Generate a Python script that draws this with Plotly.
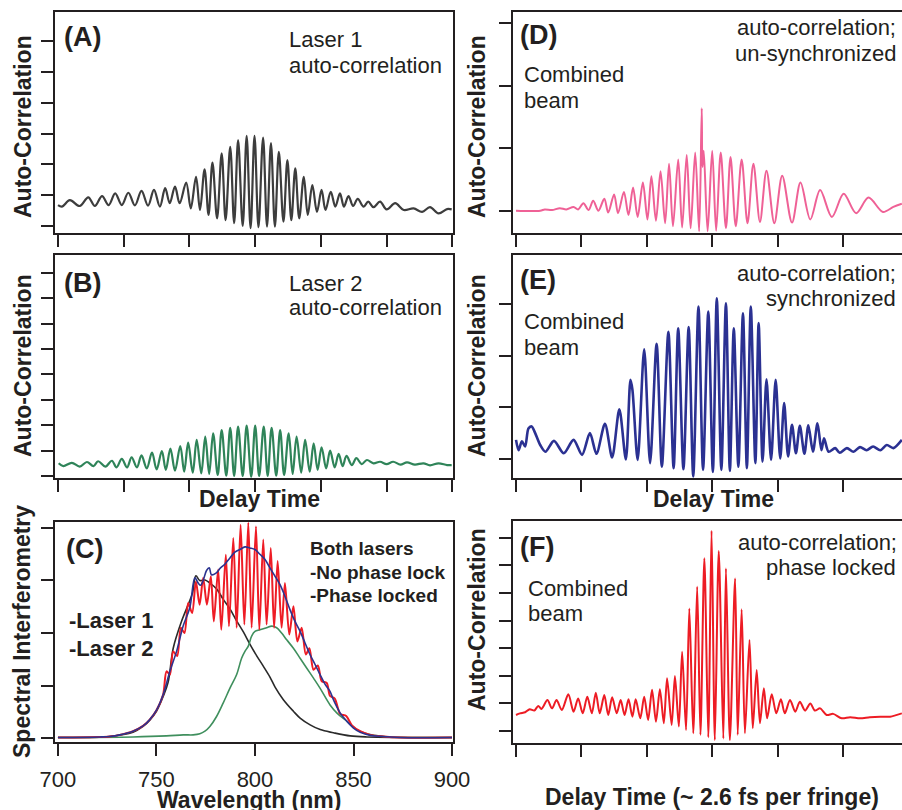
import plotly.graph_objects as go

# ---------------- data ----------------
# (A) Laser 1 auto-correlation: delay (tick units) / signal (tick units)
A_delay = [0.00,0.06,0.18,0.33,0.46,0.56,0.67,0.77,0.87,0.97,1.07,1.17,1.27,1.37,1.46,1.55,1.63,1.70,1.78,1.85,
           1.95,2.02,2.10,2.16,2.23,2.29,2.35,2.42,2.49,2.55,2.62,2.68,2.74,2.81,2.87,2.93,2.99,3.05,3.12,3.18,
           3.24,3.30,3.36,3.43,3.49,3.55,3.61,3.67,3.74,3.80,3.87,3.94,4.01,4.07,4.15,4.22,4.29,4.35,4.42,4.49,
           4.56,4.65,4.72,4.80,4.90,5.00,5.13,5.26,5.41,5.54,5.66,5.79,5.92,5.99]
A_signal = [0.68,0.63,0.84,0.65,0.93,0.65,0.97,0.68,1.06,0.68,1.08,0.67,1.14,0.66,1.17,0.63,1.23,0.74,1.28,0.74,
            1.41,0.57,1.60,0.52,1.84,0.36,2.06,0.25,2.36,0.19,2.57,0.09,2.79,0.00,2.93,-0.07,2.93,-0.04,2.87,-0.02,
            2.69,-0.02,2.41,0.14,2.14,0.19,1.87,0.25,1.60,0.36,1.33,0.46,1.17,0.52,1.11,0.63,1.06,0.63,0.97,0.65,
            0.88,0.63,0.79,0.61,0.79,0.54,0.74,0.52,0.57,0.46,0.61,0.41,0.55,0.54]

# (B) Laser 2 auto-correlation
B_delay = [0.01,0.08,0.21,0.33,0.44,0.54,0.61,0.72,0.82,0.89,0.97,1.05,1.12,1.20,1.27,1.35,1.43,1.50,1.58,1.64,
           1.71,1.78,1.86,1.92,1.98,2.05,2.11,2.18,2.24,2.30,2.36,2.43,2.49,2.56,2.62,2.68,2.74,2.81,2.87,2.94,
           3.00,3.06,3.13,3.19,3.25,3.32,3.38,3.44,3.51,3.57,3.63,3.70,3.76,3.83,3.89,3.95,4.01,4.08,4.14,4.21,
           4.27,4.33,4.39,4.47,4.54,4.62,4.70,4.80,4.90,5.00,5.10,5.21,5.31,5.43,5.56,5.66,5.79,5.92,5.99]
B_signal = [0.50,0.39,0.52,0.37,0.55,0.39,0.58,0.37,0.60,0.34,0.67,0.34,0.73,0.34,0.81,0.30,0.92,0.26,0.98,0.24,
            1.08,0.21,1.18,0.17,1.31,0.13,1.42,0.10,1.55,0.08,1.68,0.04,1.81,0.01,1.90,0.00,1.94,0.00,1.98,-0.03,
            1.98,0.00,1.94,0.00,1.90,0.01,1.81,0.04,1.68,0.08,1.55,0.13,1.42,0.17,1.29,0.24,1.13,0.30,1.00,0.34,
            0.87,0.39,0.79,0.43,0.70,0.47,0.63,0.50,0.56,0.47,0.56,0.45,0.54,0.45,0.50,0.42,0.50,0.43,0.43]

# (C) spectra: wavelength (nm) / intensity (tick units)
C_laser1_wl = [700.0,726.3,738.1,743.2,746.6,750.0,753.4,755.9,758.5,762.7,766.1,768.3,770.0,772.0,774.6,776.8,
               780.5,783.9,787.3,790.7,794.1,797.4,800.8,804.2,807.6,810.2,814.4,819.5,822.9,828.0,833.1,839.8,
               848.3,856.8,900.0]
C_laser1 = [0.01,0.03,0.11,0.22,0.34,0.51,0.79,1.06,1.71,2.22,2.54,2.76,3.09,3.00,3.01,2.96,
            2.84,2.64,2.46,2.23,2.02,1.79,1.57,1.37,1.16,0.97,0.73,0.51,0.38,0.25,0.16,0.10,
            0.04,0.02,0.01]
C_laser2_wl = [700.0,738.1,755.1,763.6,768.6,772.0,774.6,777.1,780.5,783.9,787.3,790.7,793.2,794.9,796.6,798.3,
               800.0,802.5,805.9,808.5,811.0,813.5,816.1,819.5,822.9,826.3,829.7,833.0,838.1,841.5,846.6,851.7,
               856.8,865.3,900.0]
C_laser2 = [0.01,0.02,0.04,0.06,0.06,0.08,0.13,0.22,0.41,0.67,0.95,1.21,1.52,1.65,1.75,1.94,
            2.03,2.06,2.10,2.13,2.10,2.00,1.87,1.71,1.52,1.33,1.14,0.95,0.63,0.48,0.32,0.16,
            0.08,0.03,0.01]
C_nolock_wl = [700.0,721.2,726.3,731.4,738.1,743.2,746.6,750.0,753.4,756.8,760.2,763.5,766.9,769.5,771.2,772.4,
               773.7,775.4,776.8,777.9,780.2,782.5,784.7,787.3,789.8,792.4,794.9,797.4,800.0,802.5,805.1,807.6,
               810.2,812.7,815.2,817.8,820.3,822.9,825.4,827.9,830.5,833.0,835.6,838.1,839.8,843.2,846.6,850.0,
               853.4,858.5,865.3,873.7,900.0]
C_nolock = [0.01,0.02,0.03,0.06,0.13,0.23,0.35,0.53,0.83,1.27,1.65,2.13,2.48,3.05,2.95,2.91,
            3.00,3.19,3.24,3.11,3.14,3.24,3.31,3.43,3.54,3.59,3.64,3.62,3.59,3.50,3.40,3.24,
            3.08,2.92,2.70,2.44,2.22,2.03,1.81,1.59,1.40,1.21,1.02,0.89,0.73,0.48,0.32,0.19,
            0.11,0.05,0.03,0.01,0.01]
C_locked_wl = [700.0,721.2,726.3,731.4,738.1,743.2,746.6,750.0,753.4,755.1,756.8,758.5,760.5,762.4,764.2,766.1,
               768.1,770.0,771.9,773.7,775.6,777.6,779.1,781.3,782.9,785.2,786.8,789.0,790.7,792.7,794.6,796.6,
               798.3,800.5,802.2,804.2,805.9,808.0,809.7,811.5,813.5,815.2,817.4,819.5,821.5,823.7,825.8,827.6,
               829.7,831.9,833.9,836.4,838.1,840.5,843.2,846.3,849.2,853.4,858.5,865.3,873.7,900.0]
C_locked = [0.01,0.02,0.03,0.06,0.13,0.23,0.35,0.53,0.83,1.27,1.21,1.65,1.56,2.10,2.00,2.57,
            2.38,2.98,2.54,3.05,2.54,3.08,2.22,3.21,2.06,3.49,2.13,3.81,2.10,4.06,2.16,4.10,
            2.10,4.03,2.06,3.78,2.16,3.62,2.10,3.37,2.10,2.95,1.97,2.51,1.84,2.10,1.59,1.71,
            1.30,1.38,1.08,1.05,0.80,0.75,0.46,0.42,0.24,0.13,0.06,0.03,0.01,0.01]
C_wl_ticks = [700, 750, 800, 850, 900]

# (D) combined beam, un-synchronized
D_delay = [0.00,0.37,0.44,0.55,0.67,0.77,0.88,0.95,1.03,1.11,1.18,1.26,1.35,1.41,1.50,1.56,1.65,1.72,1.79,1.86,
           1.94,2.01,2.07,2.14,2.21,2.28,2.34,2.40,2.48,2.54,2.61,2.67,2.74,2.80,2.84,2.85,2.87,2.93,3.00,3.06,
           3.13,3.21,3.28,3.36,3.45,3.54,3.63,3.73,3.83,3.95,4.07,4.22,4.35,4.50,4.65,4.83,5.01,5.20,5.39,5.61,
           5.77,5.90]
D_signal = [0.00,0.00,0.02,0.01,0.04,0.02,0.06,0.02,0.12,0.01,0.16,0.00,0.19,-0.03,0.26,-0.04,0.30,-0.07,0.37,-0.10,
            0.45,-0.14,0.55,-0.16,0.63,-0.20,0.75,-0.25,0.82,-0.27,0.89,-0.28,0.93,-0.33,1.64,0.70,0.96,-0.33,0.96,-0.32,
            0.93,-0.28,0.86,-0.25,0.82,-0.20,0.75,-0.18,0.64,-0.20,0.56,-0.19,0.45,-0.14,0.33,-0.10,0.27,-0.04,0.21,-0.02,
            0.06,0.11]

# (E) combined beam, synchronized
E_delay = [0.00,0.04,0.09,0.14,0.19,0.24,0.29,0.37,0.45,0.58,0.73,0.88,1.01,1.13,1.23,1.36,1.47,1.58,1.68,1.75,
           1.78,1.86,1.96,2.05,2.15,2.23,2.33,2.41,2.48,2.56,2.64,2.71,2.79,2.86,2.94,3.01,3.07,3.14,3.21,3.27,
           3.33,3.40,3.47,3.53,3.59,3.66,3.71,3.77,3.83,3.90,3.97,4.04,4.10,4.16,4.22,4.28,4.34,4.41,4.47,4.54,
           4.61,4.67,4.71,4.78,4.88,4.95,5.06,5.16,5.26,5.36,5.46,5.57,5.67,5.77,5.90]
E_signal = [0.37,0.17,0.34,0.24,0.59,0.63,0.51,0.27,0.14,0.35,0.11,0.37,0.08,0.50,0.10,0.68,0.03,0.96,-0.01,1.53,
            1.34,-0.02,2.12,-0.08,2.23,-0.15,2.46,-0.18,2.53,-0.20,2.55,-0.34,2.95,-0.21,2.85,-0.25,3.11,-0.21,3.01,-0.23,
            2.53,-0.15,2.82,-0.18,2.95,-0.08,2.63,-0.05,1.54,-0.02,1.53,0.01,1.08,0.05,0.66,0.11,0.64,0.10,0.65,0.14,
            0.69,0.17,0.40,0.14,0.21,0.12,0.21,0.14,0.23,0.17,0.24,0.17,0.27,0.21,0.37]

# (F) combined beam, phase locked
F_delay = [0.00,0.06,0.14,0.21,0.28,0.34,0.39,0.48,0.55,0.62,0.70,0.80,0.88,0.95,1.02,1.09,1.16,1.22,1.28,1.35,
           1.41,1.47,1.54,1.60,1.66,1.72,1.78,1.83,1.90,1.96,2.02,2.08,2.14,2.20,2.26,2.31,2.38,2.43,2.49,2.54,
           2.60,2.65,2.71,2.77,2.82,2.88,2.94,2.99,3.04,3.10,3.17,3.21,3.27,3.35,3.39,3.45,3.50,3.57,3.62,3.68,
           3.73,3.79,3.84,3.91,3.98,4.05,4.11,4.19,4.27,4.34,4.42,4.50,4.57,4.65,4.75,4.85,4.98,5.11,5.26,5.41,
           5.57,5.72,5.90]
F_signal = [0.58,0.64,0.68,0.79,0.74,0.91,0.80,1.12,0.82,1.12,0.76,1.33,0.70,1.18,0.64,1.24,0.64,1.39,0.64,1.30,
            0.58,1.22,0.64,1.12,0.58,1.15,0.52,1.15,0.46,1.24,0.40,1.49,0.34,1.51,0.28,1.91,0.22,1.99,0.16,2.87,
            0.04,4.44,-0.08,5.23,-0.14,6.26,-0.23,7.26,-0.33,6.52,-0.27,5.89,-0.33,5.53,-0.14,4.41,-0.08,3.30,0.10,2.21,
            0.28,1.55,0.46,1.33,0.64,1.15,0.64,1.12,0.70,1.06,0.74,1.00,0.74,0.82,0.58,0.62,0.46,0.50,0.46,0.50,
            0.52,0.52,0.64]

# tick positions (unlabelled) for each panel
delay_ticks = [0, 1, 2, 3, 4, 5, 6]
A_yticks = list(range(0, 7))
B_yticks = list(range(0, 9))
C_yticks = list(range(0, 5))
D_yticks = list(range(0, 4))
E_yticks = list(range(0, 4))
F_yticks = list(range(0, 8))

# ---------------- styling / layout ----------------
W, H = 902, 810
INK = "#231f20"
FONT = "Liberation Sans, Arial, Helvetica, sans-serif"


def xdom(left, right):
    return [left / W, min(right / W, 1.0)]


def ydom(top, bottom):
    return [1 - bottom / H, 1 - top / H]


fig = go.Figure()


def line(x, y, axis, color, width=2.0, smooth=1.0):
    fig.add_trace(go.Scatter(
        x=x, y=y, mode="lines", xaxis="x" + axis, yaxis="y" + axis,
        line=dict(color=color, width=width, shape="spline", smoothing=smooth),
        hoverinfo="skip", showlegend=False))


line(A_delay, A_signal, "", "#3d3d3d", 2.2)
line(B_delay, B_signal, "2", "#2f8459", 2.2)
line(C_laser1_wl, C_laser1, "3", "#2a2a2a", 1.6)
line(C_laser2_wl, C_laser2, "3", "#3f8f5d", 1.6)
line(C_locked_wl, C_locked, "3", "#ee1c25", 2.0, 0.8)
line(C_nolock_wl, C_nolock, "3", "#2b3390", 1.6)
line(D_delay, D_signal, "4", "#ef6196", 2.0, 0.9)
line(E_delay, E_signal, "5", "#2b3192", 2.6, 0.8)
line(F_delay, F_signal, "6", "#ed1c24", 2.0, 0.8)


def axis_style(**kw):
    d = dict(showgrid=False, zeroline=False, showline=True, linecolor=INK, linewidth=1.5,
             ticks="outside", ticklen=12, tickwidth=1.5, tickcolor=INK,
             showticklabels=False, fixedrange=True, automargin=False)
    d.update(kw)
    return d


panels = {
    # name: (xdomain px, ydomain px, xrange, yrange, xticks, yticks, right-side?)
    "": ((55, 453), (12, 233), [-0.046, 6.01], [-0.227, 6.948], delay_ticks, A_yticks, False),
    "2": ((55, 453), (255, 478), [-0.046, 6.01], [-0.079, 8.70], delay_ticks, B_yticks, False),
    "3": ((55, 453), (522, 742), [698.5, 900.5], [-0.076, 4.114], C_wl_ticks, C_yticks, False),
    "4": ((513, 902), (12, 233), [-0.046, 5.902], [-0.357, 3.179], delay_ticks, D_yticks, True),
    "5": ((513, 902), (255, 478), [-0.046, 5.902], [-0.368, 3.946], delay_ticks, E_yticks, True),
    "6": ((513, 902), (521, 743), [-0.046, 5.902], [-0.435, 7.609], delay_ticks, F_yticks, True),
}

layout = {}
for name, (xd, yd, xr, yr, xt, yt, right) in panels.items():
    xkey = "xaxis" + name
    ykey = "yaxis" + name
    xa = axis_style(domain=xdom(*xd), range=xr, tickvals=xt, mirror=True,
                    anchor="y" + name)
    if name == "3":
        xa.update(showticklabels=True, ticktext=[str(v) for v in C_wl_ticks],
                  tickfont=dict(family=FONT, size=22, color=INK), ticklabelstandoff=5)
    ya = axis_style(domain=ydom(*yd), range=yr, tickvals=yt, mirror=not right,
                    anchor="x" + name)
    layout[xkey] = xa
    layout[ykey] = ya

fig.update_layout(**layout)

ann = []


def text(s, px, py, size=22, bold=False, xanchor="left", angle=0):
    ann.append(dict(text=s, x=px / W, y=1 - py / H, xref="paper", yref="paper",
                    xanchor=xanchor, yanchor="middle", showarrow=False, textangle=angle,
                    font=dict(family=FONT, size=size, color=INK,
                              weight="bold" if bold else "normal")))


# axis titles
for py in (127, 366):
    text("Auto-Correlation", 23, py, 23, True, "center", -90)
    text("Auto-Correlation", 477, py, 23, True, "center", -90)
text("Auto-Correlation", 477, 620, 23, True, "center", -90)
text("Spectral Interferometry", 22, 632, 23, True, "center", -90)
text("Delay Time", 259, 499, 23, True, "center")
text("Delay Time", 713, 499, 23, True, "center")
text("Wavelength (nm)", 249, 800, 23, True, "center")
text("Delay Time (~ 2.6 fs per fringe)", 712, 797, 23, True, "center")

# panel letters
text("(A)", 62, 37, 27, True)
text("(B)", 62, 283, 27, True)
text("(C)", 64, 549, 27, True)
text("(D)", 518, 35, 27, True)
text("(E)", 518, 280, 27, True)
text("(F)", 518, 547, 27, True)

# panel notes
text("Laser 1", 287, 39, 22)
text("auto-correlation", 287, 65, 22)
text("Laser 2", 287, 283, 22)
text("auto-correlation", 287, 308, 22)
text("Both lasers", 308, 548, 19, True)
text("-No phase lock", 308, 572, 19, True)
text("-Phase locked", 308, 595, 19, True)
text("-Laser 1", 67, 620, 22, True)
text("-Laser 2", 67, 648, 22, True)

text("auto-correlation;", 898, 28, 22, xanchor="right")
text("un-synchronized", 898, 54, 22, xanchor="right")
text("Combined", 522, 75, 22)
text("beam", 522, 100, 22)
text("auto-correlation;", 898, 273, 22, xanchor="right")
text("synchronized", 898, 298, 22, xanchor="right")
text("Combined", 522, 322, 22)
text("beam", 522, 348, 22)
text("auto-correlation;", 899, 542, 22, xanchor="right")
text("phase locked", 898, 567, 22, xanchor="right")
text("Combined", 526, 588, 22)
text("beam", 526, 613, 22)

fig.update_layout(
    width=W, height=H, margin=dict(l=0, r=0, t=0, b=0, pad=0, autoexpand=False),
    autosize=False,
    paper_bgcolor="white", plot_bgcolor="white",
    showlegend=False, annotations=ann,
    font=dict(family=FONT, color=INK),
)

page_fix = ("document.documentElement.style.margin='0';document.body.style.margin='0';"
            "document.body.style.padding='0';document.body.style.overflow='hidden';"
            "document.documentElement.style.overflow='hidden';")

fig.write_html("out.html", config={"responsive": False, "displayModeBar": False},
               post_script=page_fix)
